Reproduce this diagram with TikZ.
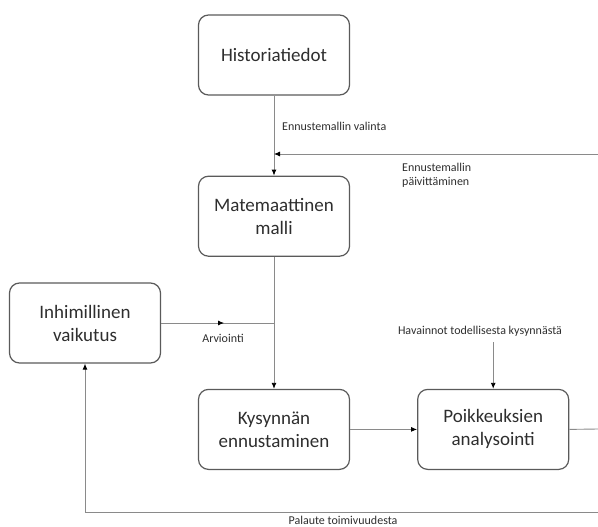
\documentclass[tikz,border=0pt]{standalone}
\usepackage{fontspec}
\setmainfont{Carlito}
\usetikzlibrary{
    arrows.meta,
    positioning
}
\definecolor{reunaharmaa}{HTML}{5A5A5A}
\definecolor{viivaharmaa}{HTML}{8A8A8A}
\definecolor{tekstiharmaa}{HTML}{2E2E2E}

\begin{document}
\begin{tikzpicture}[
    x=1pt, y=-1pt,
    every node/.style={font=\fontsize{12}{14}\selectfont, text=tekstiharmaa},
    laatikko/.style={rectangle, draw=reunaharmaa, line width=1.2pt, rounded corners=10pt,
      align=center, minimum width=151pt, minimum height=80pt,
      font=\fontsize{19}{23}\selectfont},
    selite/.style={align=left, inner sep=0pt},
    viiva/.style={draw=viivaharmaa, line width=0.9pt},
    nuoli/.style={viiva, -{Latex[length=6pt,width=5pt,color=black]}}
]
\useasboundingbox (0,0) rectangle (598,527);

\node[laatikko] (historia) at (274,55) {Historiatiedot};
\node[laatikko, below=80pt of historia] (malli) {Matemaattinen\\malli};
\node[laatikko, below=132pt of malli] (kysynta) {Kysynnän\\ennustaminen};
\node[laatikko, right=67pt of kysynta] (poikkeus) {Poikkeuksien\\analysointi};
\node[laatikko] (inhimillinen) at (85,323) {Inhimillinen\\vaikutus};

\node[selite, anchor=west] (valinta) at (282,126) {Ennustemallin valinta};
\node[selite, anchor=west] (paivitys) at (402,175) {Ennustemallin\\päivittäminen};
\node[selite] (arviointi) at (223,338) {Arviointi};
\node[selite] (havainnot) at (480,331) {Havainnot todellisesta kysynnästä};
\node[selite] (palaute) at (343,520) {Palaute toimivuudesta};

\coordinate (paivitysreuna) at (598,154);
\coordinate (poikkeusreuna) at (598,429);
\coordinate (palautereuna) at (598,512);

\draw[nuoli] (historia) -- (malli);
\draw[nuoli] (paivitysreuna) -- (paivitysreuna -| malli.north);
\draw[nuoli] (malli) -- (kysynta);
% arviointi: nuoli keskellä viivaa
\draw[viiva] (inhimillinen.east) -- (inhimillinen.east -| malli.south);
\draw[nuoli] (inhimillinen.east) -- ++(63,0);
\draw[nuoli] (kysynta) -- (poikkeus);
\draw[viiva] (poikkeus.east) -- (poikkeusreuna);
\draw[nuoli] (poikkeus.north |- havainnot.south) ++(0,6) -- (poikkeus.north);
\draw[nuoli] (palautereuna) -- (palautereuna -| inhimillinen.south) -- (inhimillinen.south);
\end{tikzpicture}
\end{document}
